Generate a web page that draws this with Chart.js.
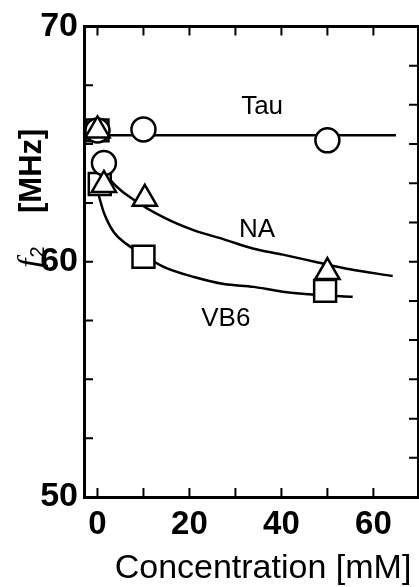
<!DOCTYPE html>
<html>
<head>
<meta charset="utf-8">
<script src="https://cdn.jsdelivr.net/npm/chart.js@4/dist/chart.umd.min.js"></script>
<style>
  html, body { margin: 0; padding: 0; background: #fff; overflow: hidden; }
  #wrap { width: 419px; height: 587px; }
  canvas { display: block; }
</style>
</head>
<body>
<div id="wrap"><canvas id="chart" width="419" height="587"></canvas></div>
<script>
// measured points
const tauX = [0, 1.4, 10, 50];
const tauY = [65.58, 64.19, 65.62, 65.16];
const naX = [0, 1.4, 10.3, 50];
const naY = [65.58, 63.26, 62.67, 59.56];
const vb6X = [0, 0.5, 10, 49.5];
const vb6Y = [65.58, 63.3, 60.21, 58.76];

// fitted curves
const tauFitX = [-2.93, 64.9];
const tauFitY = [65.37, 65.37];
const naFitX = [1.6, 2.5, 7.9, 14.5, 21.0, 27.5, 34.0, 40.3, 47.7, 54.9, 64.2];
const naFitY = [63.9, 63.56, 62.63, 61.87, 61.33, 60.95, 60.55, 60.3, 59.98, 59.68, 59.39];
const vb6FitX = [0.3, 1.4, 3.6, 6.4, 10.1, 14.5, 21.0, 27.5, 34.0, 40.3, 47.7, 55.5];
const vb6FitY = [62.8, 62.08, 61.24, 60.74, 60.27, 59.77, 59.35, 59.05, 58.93, 58.72, 58.59, 58.51];

// axes
const xLabels = [0, 20, 40, 60];
const xTickMarks = [0, 10, 20, 30, 40, 50, 60];
const yLabels = [50, 60, 70];
const yLeftTickMarks = [52.5, 55, 57.5, 60, 62.5, 65, 67.5];
const yRightTickMarks = [51.67, 53.33, 55, 56.67, 58.33, 60, 61.67, 63.33, 65, 66.67, 68.33];

// curve names
const seriesNames = ['Tau', 'NA', 'VB6'];
const namePosX = [35.8, 34.7, 27.9];
const namePosY = [66.59, 61.37, 57.58];

const FONT = '"Liberation Sans", Arial, Helvetica, sans-serif';

function pts(xs, ys) {
    return xs.map((x, i) => ({ x: x, y: ys[i] }));
}

function lineSet(xs, ys) {
    return {
        data: pts(xs, ys),
        showLine: true,
        borderColor: '#000',
        borderWidth: 2.5,
        pointRadius: 0,
        cubicInterpolationMode: 'monotone',
        fill: false,
        order: 3
    };
}

function markerSet(xs, ys, style, r, order) {
    return {
        data: pts(xs, ys),
        showLine: false,
        pointStyle: style,
        pointRadius: r,
        pointBorderWidth: 2.5,
        pointBorderColor: '#000',
        pointBackgroundColor: '#fff',
        order: order
    };
}

const extrasPlugin = {
    id: 'extras',
    afterDraw(chart) {
        const ctx = chart.ctx;
        const xs = chart.scales.x, ys = chart.scales.y;
        const area = chart.chartArea;
        const len = 9;

        ctx.save();
        ctx.strokeStyle = '#000';
        ctx.lineWidth = 2;
        ctx.beginPath();
        xTickMarks.forEach(v => {
            const px = xs.getPixelForValue(v);
            ctx.moveTo(px, area.bottom);
            ctx.lineTo(px, area.bottom - len);
            ctx.moveTo(px, area.top);
            ctx.lineTo(px, area.top + len);
        });
        yLeftTickMarks.forEach(v => {
            const py = ys.getPixelForValue(v);
            ctx.moveTo(area.left, py);
            ctx.lineTo(area.left + len, py);
        });
        yRightTickMarks.forEach(v => {
            const py = ys.getPixelForValue(v);
            ctx.moveTo(area.right, py);
            ctx.lineTo(area.right - len, py);
        });
        ctx.stroke();

        // curve names
        ctx.fillStyle = '#000';
        ctx.font = '26px ' + FONT;
        ctx.textAlign = 'center';
        ctx.textBaseline = 'middle';
        seriesNames.forEach((name, i) => {
            ctx.fillText(name, xs.getPixelForValue(namePosX[i]), ys.getPixelForValue(namePosY[i]));
        });

        // x axis title
        ctx.font = '34px ' + FONT;
        ctx.textBaseline = 'alphabetic';
        ctx.fillText('Concentration [mM]', 263, 578);

        // y axis title, rotated
        ctx.translate(41, 268);
        ctx.rotate(-Math.PI / 2);
        ctx.textAlign = 'left';
        ctx.font = 'italic 34px "Liberation Serif", serif';
        ctx.fillText('f', 0, 0);
        const fw = ctx.measureText('f').width;
        ctx.font = '20px ' + FONT;
        ctx.fillText('2', fw + 1, 3);
        ctx.font = 'bold 31px ' + FONT;
        ctx.fillText('[MHz]', 55, 0);
        ctx.restore();
    }
};

const axisBorder = { display: true, color: '#000', width: 3 };
const noGrid = { drawOnChartArea: false, drawTicks: false };

new Chart(document.getElementById('chart'), {
    type: 'scatter',
    data: {
        datasets: [
            lineSet(tauFitX, tauFitY),
            lineSet(naFitX, naFitY),
            lineSet(vb6FitX, vb6FitY),
            markerSet(vb6X, vb6Y, 'rect', 15.5, 2),
            markerSet(tauX, tauY, 'circle', 12, 1),
            markerSet(naX, naY, 'triangle', 14, 0)
        ]
    },
    options: {
        responsive: false,
        animation: false,
        events: [],
        layout: { autoPadding: false, padding: { top: 22, left: 0, right: 0, bottom: 0 } },
        plugins: {
            legend: { display: false },
            tooltip: { enabled: false }
        },
        elements: { point: { hoverRadius: 0 } },
        scales: {
            x: {
                type: 'linear',
                position: 'bottom',
                min: -2.93,
                max: 69.7,
                afterBuildTicks: s => { s.ticks = xLabels.map(v => ({ value: v })); },
                afterFit: s => { s.height = 90; },
                grid: noGrid,
                border: axisBorder,
                ticks: {
                    color: '#000',
                    padding: 8,
                    maxRotation: 0,
                    font: { family: FONT, size: 33, weight: 'bold' }
                }
            },
            xTop: {
                type: 'linear',
                position: 'top',
                min: -2.93,
                max: 69.7,
                afterFit: s => { s.height = 0; },
                grid: noGrid,
                border: axisBorder,
                ticks: { display: false }
            },
            y: {
                type: 'linear',
                position: 'left',
                min: 50,
                max: 70,
                afterBuildTicks: s => { s.ticks = yLabels.map(v => ({ value: v })); },
                afterFit: s => { s.width = 84; },
                grid: noGrid,
                border: axisBorder,
                ticks: {
                    color: '#000',
                    padding: 6,
                    font: { family: FONT, size: 34, weight: 'bold' }
                }
            },
            yRight: {
                type: 'linear',
                position: 'right',
                min: 50,
                max: 70,
                afterFit: s => { s.width = 1; },
                grid: noGrid,
                border: axisBorder,
                ticks: { display: false }
            }
        }
    },
    plugins: [extrasPlugin]
});
</script>
</body>
</html>
